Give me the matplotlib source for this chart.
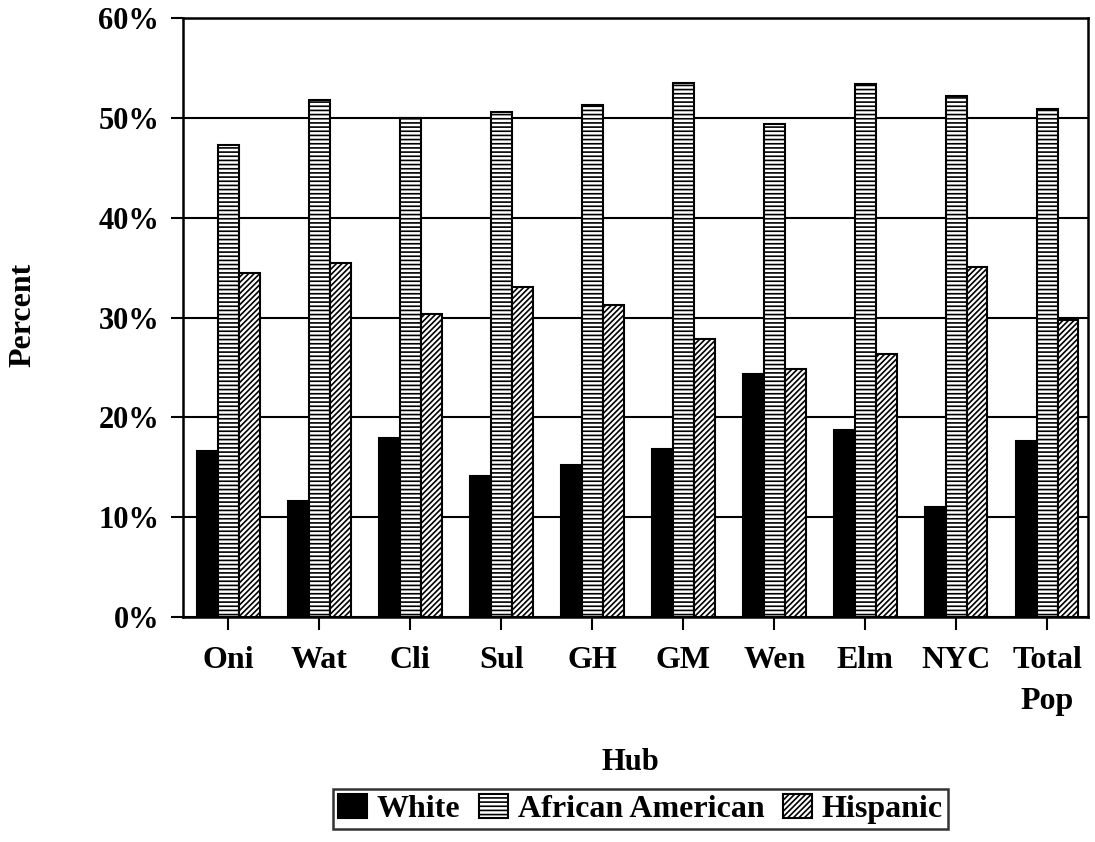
import numpy as np
import matplotlib
matplotlib.use("Agg")
import matplotlib.pyplot as plt

# values, in percent
hubs = ['Oni', 'Wat', 'Cli', 'Sul', 'GH', 'GM', 'Wen', 'Elm', 'NYC', 'Total\nPop']
white = [16.6, 11.6, 17.9, 14.1, 15.2, 16.8, 24.3, 18.7, 11.0, 17.6]
african_american = [47.3, 51.8, 50.0, 50.6, 51.3, 53.5, 49.4, 53.4, 52.2, 50.9]
hispanic = [34.5, 35.5, 30.4, 33.1, 31.3, 27.8, 24.8, 26.3, 35.1, 29.8]
series_names = ['White', 'African American', 'Hispanic']
y_ticks = [0, 10, 20, 30, 40, 50, 60]

plt.rcParams['font.family'] = 'Liberation Serif'
plt.rcParams['font.weight'] = 'bold'
plt.rcParams['hatch.linewidth'] = 1.2

fig = plt.figure(figsize=(10.95, 8.42), dpi=100)
ax = fig.add_axes([0.167, 0.2672, 0.8266, 0.7114])

x = np.arange(len(hubs))
w = 0.23
ax.bar(x - w, white, w, color='black', edgecolor='black', linewidth=1.5,
       label=series_names[0], zorder=3)
ax.bar(x, african_american, w, color='white', edgecolor='black', linewidth=1.5,
       hatch='----', label=series_names[1], zorder=3)
ax.bar(x + w, hispanic, w, color='white', edgecolor='black', linewidth=1.5,
       hatch='//////', label=series_names[2], zorder=3)

ax.set_ylim(0, 60)
ax.set_xlim(-0.5, 9.45)
ax.set_yticks(y_ticks)
ax.set_yticklabels([f'{v}%' for v in y_ticks], fontsize=22, fontweight='bold')
ax.set_xticks(x)
ax.set_xticklabels(hubs, fontsize=23, fontweight='bold', linespacing=1.55)
ax.tick_params(axis='both', direction='out', length=9, width=1.5, color='black')
ax.tick_params(axis='y', pad=8)
ax.tick_params(axis='x', pad=12)
ax.yaxis.grid(True, color='black', linewidth=1.5, zorder=0)
for s in ax.spines.values():
    s.set_linewidth(1.8)
    s.set_color('black')

fig.text(0.576, 0.094, 'Hub', ha='center', va='center', fontsize=22, fontweight='bold')
fig.text(0.021, 0.626, 'Percent', ha='center', va='center', rotation=90,
         fontsize=23, fontweight='bold')

leg = fig.legend(loc='center', bbox_to_anchor=(0.585, 0.039), ncol=3,
                 prop={'size': 23, 'weight': 'bold'}, frameon=True, fancybox=False,
                 handlelength=0.9, handleheight=0.8, handletextpad=0.3,
                 columnspacing=0.6, borderpad=0.15, borderaxespad=0)
leg.get_frame().set_edgecolor('black')
leg.get_frame().set_linewidth(1.8)

fig.savefig('out.png', dpi=100, facecolor='white')
